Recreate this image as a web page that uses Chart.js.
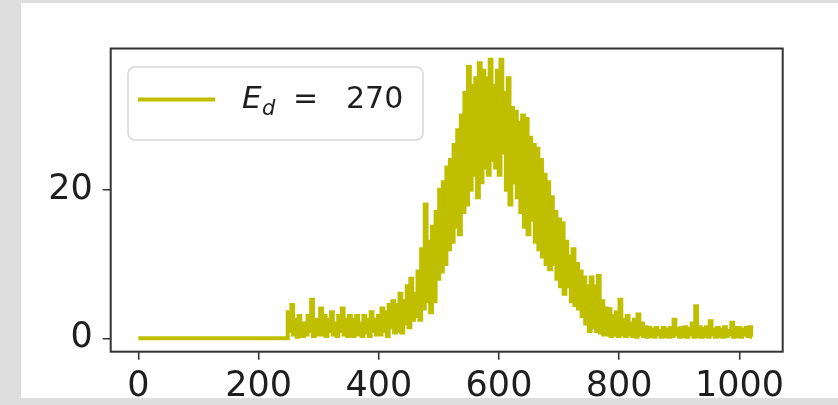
<!DOCTYPE html>
<html>
<head>
<meta charset="utf-8">
<script src="https://cdn.jsdelivr.net/npm/chart.js@4.4.1/dist/chart.umd.min.js"></script>
<style>
  html, body { margin: 0; padding: 0; background: #dedede; }
  #wrap { position: absolute; left: 0; top: 0; width: 838px; height: 405px; }
</style>
</head>
<body>
<div id="wrap"><canvas id="spectrum" width="838" height="405"></canvas></div>
<script>
// channel axis ticks / count axis ticks
const xTicks = [0, 200, 400, 600, 800, 1000];
const yTicks = [0, 20];

// empty channels before the threshold
const flatChannels = [0, 247];
const flatCounts = [0, 0];

// counts from channel 250 on, one reading every 3 channels
const firstChannel = 250;
const channelStep = 3;
const counts = [
    3.5, 1, 4.5, 0.5, 2.5, 0.2, 3, 1.5, 0.3, 2,
    0.5, 3, 1, 5.2, 0.3, 2.5, 0.5, 1.5, 4, 0.5,
    3, 0.3, 2.5, 1, 3.5, 0.5, 2, 0.3, 3, 1,
    4, 0.5, 2.5, 0.3, 3, 1.5, 0.3, 2.5, 3, 0.5,
    2, 0.3, 3, 0.8, 2.5, 0.3, 3.5, 1, 2.5, 0.5,
    3, 0.5, 4, 1, 3.5, 0.3, 4.5, 1.5, 5, 0.8,
    4.5, 1, 6, 0.8, 5, 2, 7, 1.5, 8, 2.5,
    6, 3, 9, 2.5, 12, 4, 18, 5, 13, 3.5,
    15, 5, 17, 8, 20, 9, 21, 10, 23, 12,
    24, 13, 26, 15, 28, 14, 30, 17, 33, 18,
    36.5, 20, 34, 22, 35, 19, 37, 21, 36, 23,
    35, 22, 37.5, 24, 34, 23, 36, 22, 37.5, 25,
    33, 20, 35, 18, 31, 21, 30.5, 19, 29, 17,
    30, 15, 29.5, 14, 27, 16, 26, 13, 25.5, 12,
    24, 11, 22, 10, 21, 9.3, 19, 10, 17, 8,
    16, 7, 15.5, 6, 13, 7, 11, 5, 12, 4.5,
    10, 4, 9, 3, 8.2, 2, 7, 1, 8.2, 1.5,
    7, 1, 8.4, 0.8, 5, 0.5, 4, 0.5, 3.9, 0.3,
    3, 0.5, 3.5, 0.3, 5.2, 0.5, 2.5, 0.3, 3, 0.5,
    2, 0.3, 2.5, 0.2, 3.2, 0.5, 2, 0.3, 1.5, 0.2,
    1.4, 0.3, 1.2, 0.2, 1.4, 0.5, 1, 0.2, 1.4, 0.3,
    1.2, 0.2, 1.4, 0.3, 2.5, 0.5, 1.3, 0.2, 1.4, 0.3,
    1.5, 0.2, 1.3, 0.5, 2, 0.2, 4.3, 0.3, 1.5, 0.2,
    1.3, 0.3, 1.5, 0.2, 2.3, 0.5, 1.2, 0.2, 1.4, 0.3,
    1.2, 0.2, 1.5, 0.3, 1, 0.5, 2.1, 0.2, 1.4, 0.3,
    1.4, 0.2, 1.2, 0.5, 1.4, 0.3, 1.5, 0.2
];

const lineColor = 'rgb(191,191,0)';
const legendParts = { symbol: 'E', sub: 'd', rest: '=', value: '270' };

const points = [];
flatChannels.forEach((c, i) => points.push({ x: c, y: flatCounts[i] }));
counts.forEach((v, i) => points.push({ x: firstChannel + i * channelStep, y: v }));

// grey slide border + white panel behind the figure
const pagePlugin = {
    id: 'page',
    beforeDraw: (chart) => {
        const c = chart.ctx;
        c.save();
        c.fillStyle = '#dedede';
        c.fillRect(0, 0, chart.width, chart.height);
        c.fillStyle = '#ffffff';
        c.fillRect(21, 3, chart.width - 21, 395);
        c.restore();
    },
    afterDraw: (chart) => {
        const c = chart.ctx;
        const a = chart.chartArea;
        c.save();
        // axes frame
        c.strokeStyle = '#333';
        c.lineWidth = 2;
        c.strokeRect(a.left, a.top, a.right - a.left, a.bottom - a.top);

        // legend box
        const bx = 128, by = 67, bw = 295, bh = 73, r = 7;
        c.beginPath();
        c.moveTo(bx + r, by);
        c.arcTo(bx + bw, by, bx + bw, by + bh, r);
        c.arcTo(bx + bw, by + bh, bx, by + bh, r);
        c.arcTo(bx, by + bh, bx, by, r);
        c.arcTo(bx, by, bx + bw, by, r);
        c.closePath();
        c.fillStyle = 'rgba(255,255,255,0.85)';
        c.fill();
        c.strokeStyle = '#d6d6d6';
        c.lineWidth = 1.5;
        c.stroke();

        c.strokeStyle = lineColor;
        c.lineWidth = 4;
        c.beginPath();
        c.moveTo(138, 99.5);
        c.lineTo(215, 99.5);
        c.stroke();

        c.fillStyle = '#1e1e1e';
        c.textBaseline = 'alphabetic';
        c.font = 'italic 31px "DejaVu Sans"';
        c.fillText(legendParts.symbol, 242, 108);
        c.font = 'italic 21px "DejaVu Sans"';
        c.fillText(legendParts.sub, 262, 115);
        c.font = '30px "DejaVu Sans"';
        c.fillText(legendParts.rest, 293, 108);
        c.fillText(legendParts.value, 346, 108);
        c.restore();
    }
};

const ctx = document.getElementById('spectrum').getContext('2d');
const spectrumChart = new Chart(ctx, {
    type: 'line',
    data: {
        datasets: [{
            label: 'E_d = 270',
            data: points,
            borderColor: lineColor,
            borderWidth: 4,
            borderJoinStyle: 'miter',
            stepped: 'middle',
            pointRadius: 0,
            fill: false,
            tension: 0
        }]
    },
    options: {
        responsive: false,
        animation: false,
        parsing: false,
        layout: { padding: { left: 0, right: 55.3, top: 48.5, bottom: 0 } },
        plugins: {
            legend: { display: false },
            tooltip: { enabled: false }
        },
        scales: {
            x: {
                type: 'linear',
                min: -46,
                max: 1072,
                afterBuildTicks: (scale) => { scale.ticks = xTicks.map(v => ({ value: v })); },
                afterFit: (scale) => { scale.height = 53.3; },
                border: { display: false },
                grid: { drawOnChartArea: false, drawTicks: true, tickLength: 8, color: '#333', lineWidth: 1.5 },
                ticks: {
                    padding: 6,
                    color: '#1e1e1e',
                    maxRotation: 0,
                    callback: (v) => String(v),
                    font: { family: 'DejaVu Sans', size: 35 }
                }
            },
            y: {
                type: 'linear',
                min: -1.8,
                max: 39,
                afterBuildTicks: (scale) => { scale.ticks = yTicks.map(v => ({ value: v })); },
                afterFit: (scale) => { scale.width = 110.7; },
                border: { display: false },
                grid: { drawOnChartArea: false, drawTicks: true, tickLength: 8, color: '#333', lineWidth: 1.5 },
                ticks: {
                    padding: 10,
                    color: '#1e1e1e',
                    callback: (v) => String(v),
                    font: { family: 'DejaVu Sans', size: 35 }
                }
            }
        }
    },
    plugins: [pagePlugin]
});
</script>
</body>
</html>
